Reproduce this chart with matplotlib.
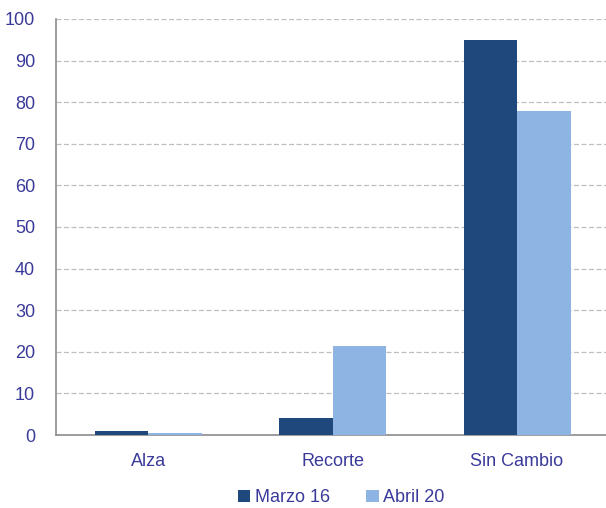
import matplotlib.pyplot as plt
import numpy as np

categories = ['Alza', 'Recorte', 'Sin Cambio']
marzo_16 = [1.0, 4.0, 95.0]
abril_20 = [0.5, 21.5, 78.0]
series_names = ['Marzo 16', 'Abril 20']

plt.rcParams['font.family'] = ['Liberation Sans', 'DejaVu Sans']
text_color = '#3A3A9A'

fig = plt.figure(figsize=(6.06, 5.08), dpi=100)
ax = fig.add_axes([0.0924, 0.1437, 0.913, 0.8189])

x = np.arange(len(categories))
width = 0.29
ax.bar(x - width / 2, marzo_16, width, color='#1F497D', label=series_names[0], zorder=3)
ax.bar(x + width / 2, abril_20, width, color='#8DB4E2', label=series_names[1], zorder=3)

ax.set_xlim(-0.5, 2.5)
ax.set_ylim(0, 100)
ax.set_yticks(np.arange(0, 101, 10))
ax.set_xticks(x)
ax.set_xticklabels(categories)
ax.tick_params(axis='both', length=0, labelsize=13, colors=text_color)
ax.tick_params(axis='y', pad=15)
ax.tick_params(axis='x', pad=13)

ax.yaxis.grid(True, color='#BFBFBF', linestyle=(0, (4, 2)), linewidth=0.9, zorder=0)
for s in ['top', 'right']:
    ax.spines[s].set_visible(False)
for s in ['left', 'bottom']:
    ax.spines[s].set_color('#8C8C8C')
    ax.spines[s].set_linewidth(1.2)

fig.legend(loc='center', bbox_to_anchor=(0.563, 0.02), ncol=2, frameon=False,
           fontsize=13, labelcolor=text_color, handlelength=0.7, handleheight=0.7,
           handletextpad=0.25, columnspacing=2.0)

fig.savefig('out.png', dpi=100)
